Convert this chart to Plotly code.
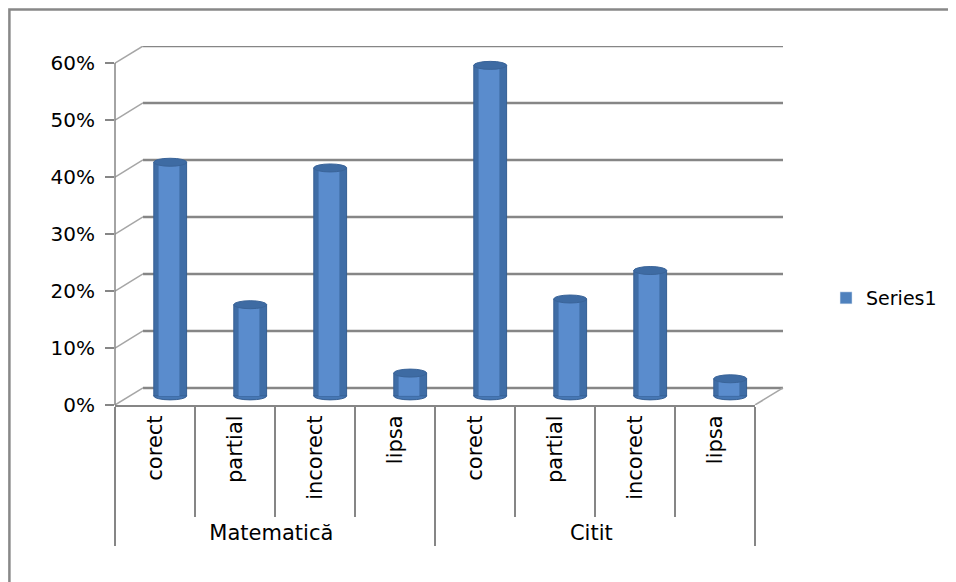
import plotly.graph_objects as go

# ---- data ----
groups = ["Matematică"] * 4 + ["Citit"] * 4
categories = ["corect", "partial", "incorect", "lipsa"] * 2
values = [0.41, 0.16, 0.40, 0.04, 0.58, 0.17, 0.22, 0.03]
y_ticks = [0, 0.1, 0.2, 0.3, 0.4, 0.5, 0.6]
y_tick_text = ["0%", "10%", "20%", "30%", "40%", "50%", "60%"]
series_name = "Series1"

# ---- styling constants ----
DEPTH_X = 0.04375   # back-wall shift in x-domain units (3D look)
DEPTH_Y = 0.03      # back-wall shift in data units
MID_BASE = 0.016    # bars sit on the middle of the floor
BAR_W = 0.41
BAR_OFF = -0.015
GRID = "#868686"
EDGE = "#a6a6a6"

fig = go.Figure()

# cylinder body (darker edges)
fig.add_trace(go.Bar(
    x=[groups, categories], y=values, base=MID_BASE,
    width=BAR_W, offset=BAR_OFF,
    marker=dict(color="#3F6DA6", line=dict(color="#365F93", width=1)),
    name=series_name, showlegend=False, hoverinfo="skip",
))
# highlight (lighter centre)
fig.add_trace(go.Bar(
    x=[groups, categories], y=values, base=MID_BASE,
    width=0.26, offset=0.045,
    marker=dict(color="#5A8CCD", line=dict(width=0)),
    name=series_name, showlegend=False, hoverinfo="skip",
))
# legend entry
fig.add_trace(go.Bar(
    x=[groups[:1], categories[:1]], y=[None],
    marker=dict(color="#4F81BD"), name=series_name, showlegend=True,
))

shapes = []
# back wall gridlines and left-wall diagonals
for v in y_ticks:
    shapes.append(dict(type="line", xref="x domain", yref="y",
                       x0=DEPTH_X, x1=1 + DEPTH_X, y0=v + DEPTH_Y, y1=v + DEPTH_Y,
                       line=dict(color=GRID, width=2.5), layer="below"))
    shapes.append(dict(type="line", xref="x domain", yref="y",
                       x0=0, x1=DEPTH_X, y0=v, y1=v + DEPTH_Y,
                       line=dict(color=EDGE, width=1.5), layer="below"))
# right floor edge
shapes.append(dict(type="line", xref="x domain", yref="y",
                   x0=1, x1=1 + DEPTH_X, y0=0, y1=DEPTH_Y,
                   line=dict(color=EDGE, width=1.5), layer="below"))
# front-left vertical edge (y axis line, 0..60%)
shapes.append(dict(type="line", xref="x domain", yref="y",
                   x0=0, x1=0, y0=y_ticks[0], y1=y_ticks[-1],
                   line=dict(color=GRID, width=1.5), layer="below"))
# cylinder caps (top face and rounded bottom), anchored on the data
for i, v in enumerate(values):
    cx = i + BAR_OFF + BAR_W / 2
    shapes.append(dict(type="circle", xref="x", yref="y",
                       xsizemode="pixel", ysizemode="pixel",
                       xanchor=cx, yanchor=MID_BASE,
                       x0=-16.5, x1=16.5, y0=-4, y1=4,
                       fillcolor="#4677B4", line=dict(color="#365F93", width=1),
                       layer="below"))
    shapes.append(dict(type="circle", xref="x", yref="y",
                       xsizemode="pixel", ysizemode="pixel",
                       xanchor=cx, yanchor=v + MID_BASE,
                       x0=-16.5, x1=16.5, y0=-4, y1=4,
                       fillcolor="#3E6BA3", line=dict(color="#3A6499", width=1)))
# outer chart border (top and left visible)
shapes.append(dict(type="rect", xref="paper", yref="paper",
                   x0=-0.165, x1=1.45, y0=-0.6, y1=1.102,
                   line=dict(color="#888888", width=2.5), layer="below"))
fig.update_layout(shapes=shapes)

# the page adds an 8px body margin, so margins are reduced by 8px on top/left
fig.update_layout(
    width=956, height=582,
    margin=dict(l=107, r=209, t=38, b=185),
    paper_bgcolor="white", plot_bgcolor="white",
    barmode="overlay",
    font=dict(family="DejaVu Sans", color="black"),
    legend=dict(x=1.111, y=0.298, xanchor="left", yanchor="middle",
                font=dict(size=19, family="DejaVu Sans")),
)

fig.update_xaxes(
    type="multicategory",
    showline=True, linecolor=GRID, linewidth=2,
    ticks="outside", tickson="boundaries", ticklen=110,
    tickcolor=GRID, tickwidth=2,
    showdividers=True, dividercolor=GRID, dividerwidth=2,
    tickangle=-90,
    tickfont=dict(size=21, family="DejaVu Sans", color="black"),
    showgrid=False,
)
fig.update_yaxes(
    range=[0, 0.63], tickvals=y_ticks, ticktext=y_tick_text,
    showgrid=False, zeroline=False,
    showline=False,
    ticks="outside", ticklen=9, tickcolor=GRID, tickwidth=1.5,
    ticklabelstandoff=6,
    tickfont=dict(size=20, family="DejaVu Sans", color="black"),
)

fig.write_html("out.html")
